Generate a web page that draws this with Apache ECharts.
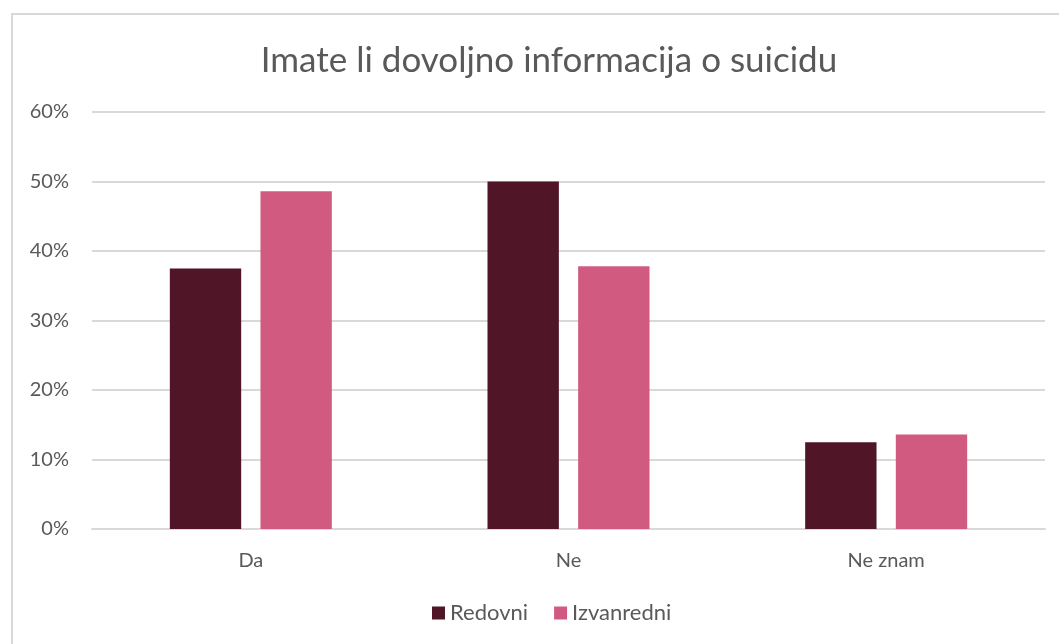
<!DOCTYPE html>
<html><head><meta charset="utf-8">
<script src="https://cdn.jsdelivr.net/npm/echarts@6/dist/echarts.min.js"></script>
<style>html,body{margin:0;padding:0;background:#fff}#c{width:1059px;height:644px}</style>
</head><body><div id="c"></div>
<script>
const categories = ['Da', 'Ne', 'Ne znam'];
const redovni = [37.5, 50, 12.5];
const izvanredni = [48.6, 37.8, 13.6];
const titleText = 'Imate li dovoljno informacija o suicidu';

const chart = echarts.init(document.getElementById('c'));
const font = 'Lato, "Open Sans", sans-serif';
chart.setOption({
  animation: false,
  textStyle: { fontFamily: font },
  graphic: [{ type: 'rect', shape: { x: 12, y: 14, width: 1070, height: 700 }, style: { fill: 'none', stroke: '#d9d9d9', lineWidth: 2 }, silent: true }],
  title: { text: titleText, left: 544, textAlign: 'center', top: 38, textStyle: { fontFamily: font, fontSize: 35, fontWeight: 'normal', color: '#595959' } },
  legend: { bottom: 15, left: 427, itemWidth: 13, itemHeight: 13, itemGap: 26, icon: 'rect', textStyle: { fontFamily: font, fontSize: 22, color: '#595959' }, data: ['Redovni', 'Izvanredni'] },
  grid: { left: 92, right: 14, top: 112, bottom: 115 },
  xAxis: { type: 'category', data: categories, axisLine: { lineStyle: { color: '#d9d9d9', width: 2 } }, axisTick: { show: false }, axisLabel: { fontFamily: font, fontSize: 20, color: '#595959', margin: 22 } },
  yAxis: { type: 'value', min: 0, max: 60, interval: 10, axisLabel: { formatter: '{value}%', fontFamily: font, fontSize: 20, color: '#595959', margin: 23 }, splitLine: { lineStyle: { color: '#d9d9d9', width: 2 } }, axisLine: { show: false }, axisTick: { show: false } },
  series: [
    { name: 'Redovni', type: 'bar', data: redovni, barGap: '27%', barCategoryGap: '49%', itemStyle: { color: '#511528' } },
    { name: 'Izvanredni', type: 'bar', data: izvanredni, itemStyle: { color: '#d15b80' } }
  ]
});
</script></body></html>
